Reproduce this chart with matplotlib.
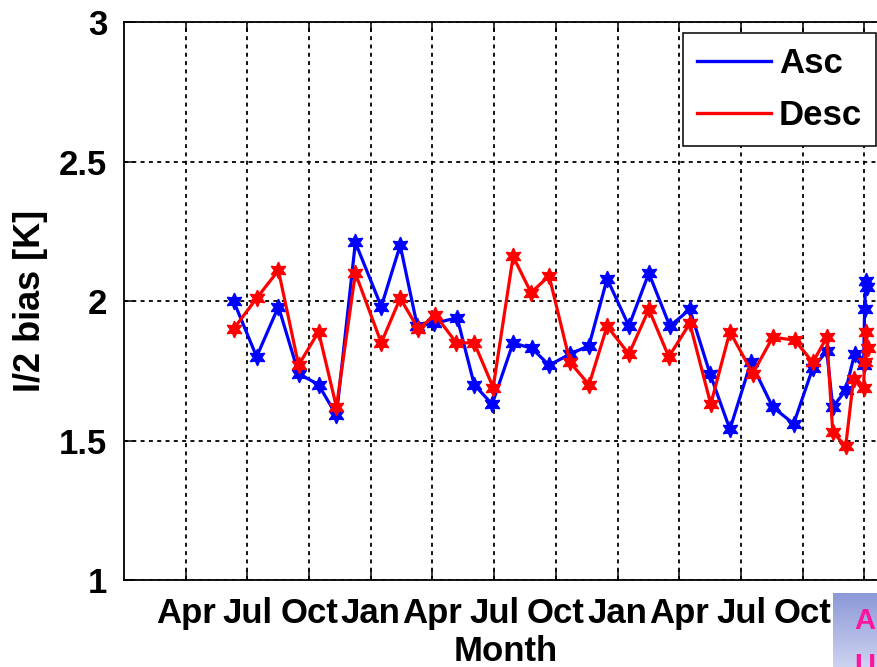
import numpy as np
import matplotlib
matplotlib.use('Agg')
import matplotlib.pyplot as plt
from matplotlib.lines import Line2D

plt.rcParams['font.family'] = ['Liberation Sans', 'DejaVu Sans']
plt.rcParams['font.weight'] = 'bold'

# time axis in months counted from 1 January of the first year
asc_t = [5.33, 6.45, 7.51, 8.49, 9.46, 10.33, 11.25, 12.51, 13.43, 14.26,
         15.09, 16.20, 17.03, 17.90, 18.92, 19.84, 20.67, 21.69, 22.61, 23.49,
         24.55, 25.52, 26.54, 27.51, 28.49, 29.46, 30.48, 31.54, 32.56, 33.49,
         34.17, 34.46, 35.09, 35.52, 35.96, 36.01, 36.06, 36.11]
asc_bias = [2.00, 1.80, 1.98, 1.74, 1.70, 1.59, 2.21, 1.98, 2.20, 1.91,
            1.92, 1.94, 1.70, 1.63, 1.85, 1.83, 1.77, 1.81, 1.84, 2.08,
            1.91, 2.10, 1.91, 1.97, 1.74, 1.54, 1.78, 1.62, 1.56, 1.76,
            1.82, 1.62, 1.68, 1.81, 1.77, 1.97, 2.07, 2.05]

desc_t = [5.33, 6.45, 7.51, 8.49, 9.46, 10.33, 11.25, 12.51, 13.43, 14.31,
          15.14, 16.16, 17.03, 17.95, 18.92, 19.79, 20.67, 21.69, 22.61, 23.49,
          24.55, 25.52, 26.49, 27.51, 28.53, 29.46, 30.57, 31.54, 32.61, 33.49,
          34.17, 34.46, 35.09, 35.47, 35.96, 36.06, 36.16, 36.01]
desc_bias = [1.90, 2.01, 2.11, 1.77, 1.89, 1.62, 2.10, 1.85, 2.01, 1.90,
             1.95, 1.85, 1.85, 1.69, 2.16, 2.03, 2.09, 1.78, 1.70, 1.91,
             1.81, 1.97, 1.80, 1.92, 1.63, 1.89, 1.74, 1.87, 1.86, 1.78,
             1.87, 1.53, 1.48, 1.72, 1.69, 1.89, 1.83, 1.78]

month_ticks = [3, 6, 9, 12, 15, 18, 21, 24, 27, 30, 33, 36]
# the January tick at the right end sits under the corner tag
month_labels = ['Apr', 'Jul', 'Oct', 'Jan', 'Apr', 'Jul', 'Oct', 'Jan',
                'Apr', 'Jul', 'Oct', '']
bias_ticks = [1, 1.5, 2, 2.5, 3]
bias_labels = ['1', '1.5', '2', '2.5', '3']

fs = 25
blue = '#0000ff'
red = '#ff0000'
star = (6, 1, 0)

fig = plt.figure(figsize=(8.78, 6.67), dpi=100)
ax = fig.add_axes([0.1412, 0.1304, 0.8691, 0.8366])

ax.plot(asc_t, asc_bias, color=blue, lw=2.3, marker=star, ms=12,
        mec=blue, mfc=blue, zorder=3)
ax.plot(desc_t, desc_bias, color=red, lw=2.3, marker=star, ms=12,
        mec=red, mfc=red, zorder=4)

ax.set_xlim(0, 37.1)
ax.set_ylim(1, 3)
ax.set_xticks(month_ticks)
ax.set_xticklabels(month_labels)
ax.set_yticks(bias_ticks)
ax.set_yticklabels(bias_labels)
ax.tick_params(direction='in', length=7, width=1.1, top=True, right=True,
               labelsize=fs, colors='k')
ax.tick_params(axis='x', pad=12)
ax.tick_params(axis='y', pad=12)
ax.grid(True, color='k', linestyle=(0, (2.2, 2.4)), linewidth=1.3)
for s in ax.spines.values():
    s.set_linewidth(1.3)

ax.set_xlabel('Month', fontsize=fs, fontweight='bold', labelpad=4)
ax.set_ylabel('I/2 bias [K]', fontsize=26, fontweight='bold', labelpad=8)

handles = [Line2D([], [], color=blue, lw=2.4), Line2D([], [], color=red, lw=2.4)]
leg = ax.legend(handles, ['Asc', 'Desc'], loc='upper right',
                bbox_to_anchor=(876 / 878, 1 - 33 / 667),
                bbox_transform=fig.transFigure, borderaxespad=0,
                fontsize=fs, handlelength=2.15, handletextpad=0.22,
                labelspacing=0.55, borderpad=0.4, fancybox=False,
                framealpha=1, edgecolor='k')
leg.get_frame().set_linewidth(1.1)
for t in leg.get_texts():
    t.set_fontweight('bold')

# small shaded tag in the lower right corner
tag = fig.add_axes([833 / 878, 0, 45 / 878, 74 / 667])
grad = np.linspace(0, 1, 64).reshape(-1, 1)
tag.imshow(grad, aspect='auto', extent=(0, 1, 0, 1),
           cmap=matplotlib.colors.LinearSegmentedColormap.from_list(
               'tag', ['#8c99d8', '#cdd2f0']))
tag.set_xlim(0, 1)
tag.set_ylim(0, 1)
tag.axis('off')
tag.text(0.7, 0.62, 'A', color='#ff14a0', fontsize=21, fontweight='bold',
         ha='center', va='center')
tag.text(0.7, 0.02, 'U', color='#ff14a0', fontsize=21, fontweight='bold',
         ha='center', va='center')

fig.savefig('out.png', dpi=100)
